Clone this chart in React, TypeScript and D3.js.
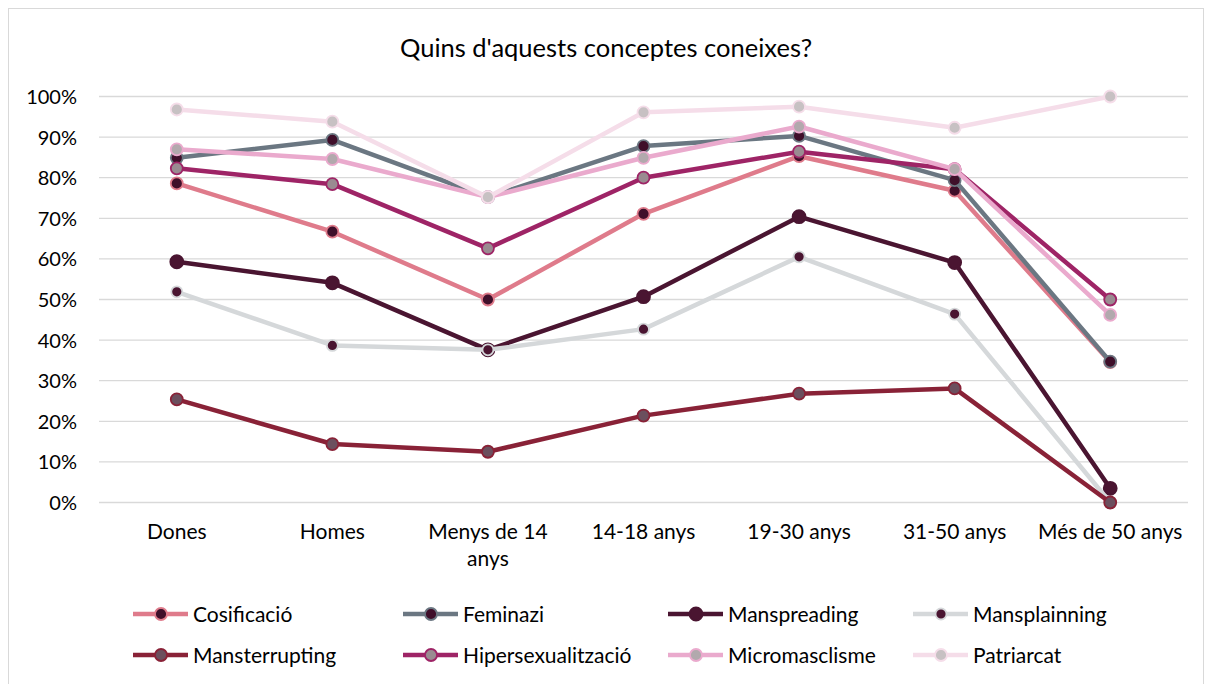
import React from "react";
import * as d3 from "d3";

const categories = ["Dones", "Homes", "Menys de 14 anys", "14-18 anys", "19-30 anys", "31-50 anys", "Més de 50 anys"];
const seriesNames = ["Cosificació", "Feminazi", "Manspreading", "Mansplainning", "Mansterrupting", "Hipersexualització", "Micromasclisme", "Patriarcat"];
const cosificacio = [78.6, 66.7, 50.0, 71.1, 85.3, 76.8, 34.6];
const feminazi = [84.9, 89.3, 75.2, 87.8, 90.3, 79.4, 34.7];
const manspreading = [59.3, 54.1, 37.6, 50.7, 70.4, 59.1, 3.5];
const mansplainning = [51.9, 38.7, 37.6, 42.7, 60.5, 46.4, 0];
const mansterrupting = [25.4, 14.4, 12.5, 21.4, 26.8, 28.1, 0];
const hipersexualitzacio = [82.3, 78.4, 62.6, 80.0, 86.4, 82.1, 50.0];
const micromasclisme = [87.0, 84.6, 75.2, 84.9, 92.6, 82.1, 46.2];
const patriarcat = [96.8, 93.8, 75.2, 96.1, 97.5, 92.3, 100];
const yTicks = [0, 10, 20, 30, 40, 50, 60, 70, 80, 90, 100];

const seriesValues = [cosificacio, feminazi, manspreading, mansplainning, mansterrupting, hipersexualitzacio, micromasclisme, patriarcat];
const styles = [
  { line: "#df7b8b", fill: "#3f0f2a", stroke: "#df7b8b", r: 6, w: 4.5 },
  { line: "#6b7782", fill: "#3f0f2a", stroke: "#6b7782", r: 6, w: 4.5 },
  { line: "#4a1531", fill: "#4a1531", stroke: "#4a1531", r: 6.5, w: 4.5 },
  { line: "#d5d8da", fill: "#4a1531", stroke: "#d5d8da", r: 5.5, w: 4.5 },
  { line: "#892237", fill: "#6b4f5e", stroke: "#892237", r: 6, w: 4.5 },
  { line: "#9e2466", fill: "#9a8b91", stroke: "#9e2466", r: 6, w: 4.5 },
  { line: "#eaaacd", fill: "#b2a9ad", stroke: "#eaaacd", r: 6, w: 4.5 },
  { line: "#f5dde9", fill: "#c7c1c3", stroke: "#f5dde9", r: 6, w: 4.5 },
];

const FONT = "Lato, 'Open Sans', sans-serif";

export default function App() {
  const left = 99, right = 1188, top = 96.5, bottom = 502.5;
  const x = d3.scaleBand().domain(categories).range([left, right]);
  const y = d3.scaleLinear().domain([0, 100]).range([bottom, top]);
  const cx = (c: string) => (x(c) as number) + x.bandwidth() / 2;
  const line = d3.line<number>().x((_, i) => cx(categories[i])).y((d) => y(d));

  const legendCols = [133, 403, 668, 913];
  const legendRows = [614, 655];

  return (
    <svg width={1212} height={684} style={{ position: "absolute", left: 0, top: 0, background: "#fff" }}>
      <rect x={8.5} y={8.5} width={1195} height={700} fill="#fff" stroke="#d9d9d9" />
      <text x={606} y={57} textAnchor="middle" fontFamily={FONT} fontSize={25.5} fill="#000">
        Quins d'aquests conceptes coneixes?
      </text>
      {yTicks.map((t) => (
        <g key={t}>
          <line x1={left} x2={right} y1={y(t)} y2={y(t)} stroke="#d9d9d9" strokeWidth={1.3} />
          <text x={77} y={y(t) + 7.5} textAnchor="end" fontFamily={FONT} fontSize={20} fill="#000">
            {t}%
          </text>
        </g>
      ))}
      {categories.map((c) => {
        const lines = c === "Menys de 14 anys" ? ["Menys de 14", "anys"] : [c];
        return (
          <text key={c} x={cx(c)} y={539} textAnchor="middle" fontFamily={FONT} fontSize={21} fill="#000">
            {lines.map((l, i) => (
              <tspan key={i} x={cx(c)} dy={i === 0 ? 0 : 26.5}>
                {l}
              </tspan>
            ))}
          </text>
        );
      })}
      {seriesValues.map((vals, si) => {
        const s = styles[si];
        return (
          <g key={si}>
            <path d={line(vals) || ""} fill="none" stroke={s.line} strokeWidth={s.w} strokeLinejoin="round" />
            {vals.map((v, i) => (
              <circle key={i} cx={cx(categories[i])} cy={y(v)} r={s.r} fill={s.fill} stroke={s.stroke} strokeWidth={1.8} />
            ))}
          </g>
        );
      })}
      {seriesNames.map((n, i) => {
        const s = styles[i];
        const lx = legendCols[i % 4];
        const ly = legendRows[Math.floor(i / 4)];
        return (
          <g key={n}>
            <line x1={lx} x2={lx + 55} y1={ly} y2={ly} stroke={s.line} strokeWidth={s.w} />
            <circle cx={lx + 28} cy={ly} r={s.r} fill={s.fill} stroke={s.stroke} strokeWidth={1.8} />
            <text x={lx + 60} y={ly + 7.5} fontFamily={FONT} fontSize={21} fill="#000">
              {n}
            </text>
          </g>
        );
      })}
    </svg>
  );
}
